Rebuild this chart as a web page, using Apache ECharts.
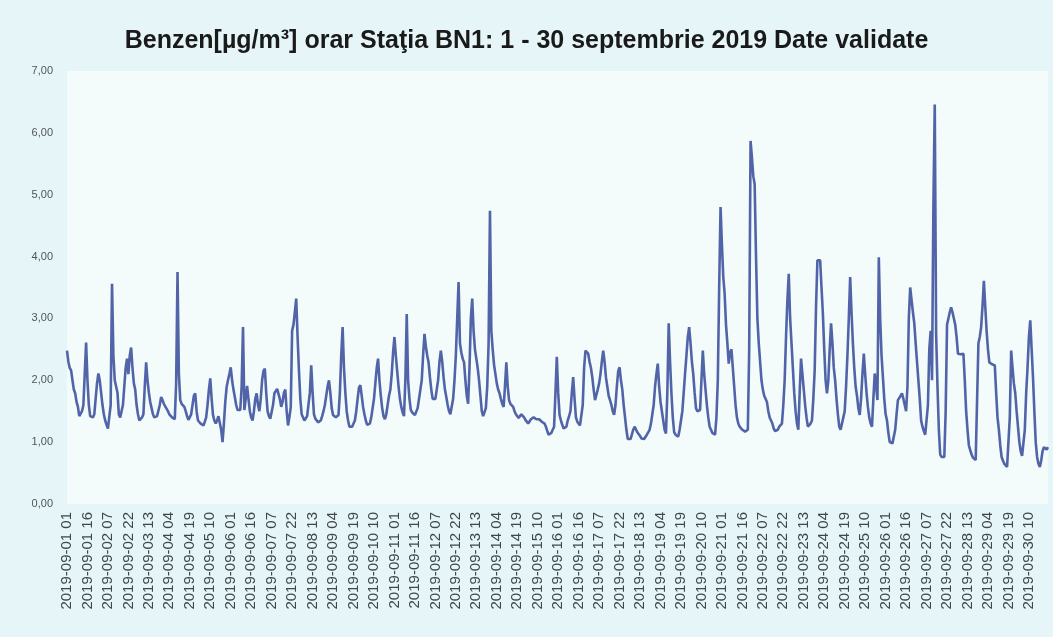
<!DOCTYPE html>
<html>
<head>
<meta charset="utf-8">
<title>Benzen orar BN1</title>
<script src="https://cdn.jsdelivr.net/npm/echarts@6/dist/echarts.min.js"></script>
<style>
  html, body { margin: 0; padding: 0; background: #e6f6f8; }
  #chart { width: 1053px; height: 637px; }
</style>
</head>
<body>
<div id="chart"></div>
<script>
// hourly values, one row per day (1 - 30 septembrie 2019)
const benzen = [
  2.48, 2.3, 2.2, 2.16, 2.0, 1.85, 1.79, 1.65, 1.57, 1.42, 1.39, 1.5, 1.6, 2.1, 2.61, 2.0, 1.6, 1.42, 1.39, 1.4, 1.45, 1.7, 1.95, 2.11,
  2.0, 1.8, 1.6, 1.45, 1.35, 1.28, 1.22, 1.19, 1.6, 3.56, 2.4, 2.0, 1.9, 1.8, 1.45, 1.4, 1.42, 1.6, 1.9, 2.2, 2.35, 2.1, 2.4, 2.53,
  2.2, 1.95, 1.85, 1.6, 1.45, 1.35, 1.32, 1.4, 1.45, 1.9, 2.29, 2.0, 1.8, 1.65, 1.55, 1.45, 1.4, 1.39, 1.42, 1.45, 1.6, 1.73, 1.68, 1.62,
  1.58, 1.57, 1.5, 1.45, 1.42, 1.4, 1.38, 1.37, 1.95, 3.75, 2.1, 1.68, 1.62, 1.6, 1.57, 1.5, 1.42, 1.36, 1.33, 1.45, 1.6, 1.75, 1.79, 1.5,
  1.35, 1.32, 1.3, 1.28, 1.27, 1.33, 1.4, 1.6, 1.85, 2.03, 1.7, 1.44, 1.35, 1.3, 1.35, 1.42, 1.44, 1.2, 1.0, 1.3, 1.65, 1.89, 2.0, 2.1,
  2.21, 2.0, 1.85, 1.73, 1.6, 1.52, 1.5, 1.52, 1.9, 2.86, 1.52, 1.7, 1.91, 1.7, 1.5, 1.4, 1.35, 1.5, 1.7, 1.79, 1.6, 1.5, 1.7, 2.0,
  2.15, 2.19, 1.8, 1.5, 1.42, 1.38, 1.37, 1.6, 1.79, 1.82, 1.86, 1.88, 1.7, 1.57, 1.65, 1.8, 1.85, 1.5, 1.27, 1.4, 1.57, 2.8, 2.9, 3.1,
  3.32, 2.7, 2.16, 1.7, 1.45, 1.4, 1.35, 1.38, 1.42, 1.44, 1.8, 2.24, 1.8, 1.45, 1.38, 1.35, 1.32, 1.3, 1.35, 1.42, 1.5, 1.6, 1.75, 1.9,
  2.0, 1.8, 1.55, 1.44, 1.42, 1.4, 1.42, 1.44, 1.8, 2.4, 2.86, 2.2, 1.8, 1.5, 1.35, 1.25, 1.22, 1.25, 1.3, 1.35, 1.5, 1.7, 1.88, 1.92,
  1.75, 1.57, 1.45, 1.35, 1.28, 1.25, 1.3, 1.4, 1.55, 1.7, 1.95, 2.2, 2.35, 2.0, 1.75, 1.55, 1.42, 1.37, 1.45, 1.6, 1.75, 1.85, 2.1, 2.45,
  2.7, 2.4, 2.15, 1.9, 1.7, 1.57, 1.48, 1.42, 2.0, 3.07, 2.0, 1.7, 1.52, 1.48, 1.45, 1.44, 1.44, 1.55, 1.7, 1.85, 2.0, 2.4, 2.75, 2.55,
  2.4, 2.29, 2.05, 1.85, 1.7, 1.68, 1.7, 1.73, 2.0, 2.3, 2.48, 2.3, 2.05, 1.85, 1.73, 1.6, 1.5, 1.45, 1.44, 1.7, 2.0, 2.4, 3.0, 3.59,
  2.6, 2.45, 2.35, 2.29, 2.0, 1.75, 1.62, 2.2, 3.0, 3.32, 2.8, 2.5, 2.35, 2.2, 2.0, 1.75, 1.5, 1.42, 1.45, 1.55, 1.9, 2.6, 4.74, 2.8,
  2.5, 2.25, 2.1, 1.95, 1.85, 1.79, 1.7, 1.62, 1.57, 1.9, 2.29, 1.9, 1.68, 1.62, 1.6, 1.57, 1.5, 1.45, 1.42, 1.39, 1.42, 1.45, 1.44, 1.4,
  1.36, 1.33, 1.3, 1.33, 1.37, 1.4, 1.4, 1.38, 1.37, 1.37, 1.37, 1.35, 1.33, 1.32, 1.3, 1.25, 1.18, 1.12, 1.09, 1.15, 1.2, 1.25, 1.8, 2.38,
  1.8, 1.44, 1.35, 1.28, 1.22, 1.2, 1.25, 1.35, 1.42, 1.5, 1.8, 2.05, 1.7, 1.4, 1.33, 1.3, 1.27, 1.25, 1.6, 2.2, 2.48, 2.45, 2.43, 2.3,
  2.2, 2.05, 1.85, 1.68, 1.7, 1.85, 1.95, 2.1, 2.3, 2.48, 2.3, 2.05, 1.9, 1.75, 1.68, 1.6, 1.5, 1.44, 1.6, 1.9, 2.15, 2.21, 2.0, 1.85,
  1.6, 1.4, 1.2, 1.05, 1.03, 1.05, 1.12, 1.2, 1.25, 1.22, 1.16, 1.13, 1.1, 1.06, 1.03, 1.05, 1.08, 1.12, 1.14, 1.2, 1.3, 1.45, 1.6, 1.9,
  2.1, 2.27, 1.9, 1.65, 1.5, 1.35, 1.2, 1.14, 1.8, 2.92, 2.3, 1.79, 1.4, 1.16, 1.12, 1.1, 1.09, 1.2, 1.35, 1.5, 1.8, 2.11, 2.4, 2.7,
  2.86, 2.6, 2.3, 2.1, 1.8, 1.55, 1.5, 1.5, 1.52, 2.0, 2.48, 2.1, 1.85, 1.6, 1.4, 1.25, 1.2, 1.15, 1.12, 1.12, 1.4, 2.0, 3.5, 4.8,
  4.2, 3.67, 3.4, 2.9, 2.6, 2.27, 2.45, 2.5, 2.2, 1.9, 1.6, 1.4, 1.3, 1.25, 1.22, 1.2, 1.18, 1.17, 1.18, 1.2, 2.5, 5.87, 5.6, 5.3,
  5.17, 4.0, 3.0, 2.6, 2.3, 2.0, 1.85, 1.75, 1.7, 1.65, 1.5, 1.4, 1.35, 1.3, 1.22, 1.18, 1.17, 1.2, 1.25, 1.28, 1.3, 1.6, 2.0, 2.7,
  3.3, 3.72, 3.0, 2.6, 2.2, 1.8, 1.5, 1.3, 1.2, 1.8, 2.35, 2.1, 1.85, 1.6, 1.4, 1.25, 1.27, 1.3, 1.35, 1.7, 2.16, 3.2, 3.94, 3.94,
  3.94, 3.5, 3.08, 2.5, 2.0, 1.79, 2.0, 2.5, 2.92, 2.6, 2.2, 2.0, 1.7, 1.45, 1.25, 1.2, 1.3, 1.4, 1.5, 1.9, 2.4, 3.0, 3.67, 3.1,
  2.6, 2.2, 1.9, 1.75, 1.55, 1.44, 1.7, 2.1, 2.43, 2.1, 1.8, 1.57, 1.4, 1.3, 1.25, 1.7, 2.11, 1.9, 1.68, 3.99, 3.0, 2.4, 2.05, 1.7,
  1.45, 1.35, 1.15, 1.0, 0.98, 0.98, 0.98, 1.2, 1.45, 1.68, 1.7, 1.75, 1.79, 1.7, 1.6, 1.5, 1.9, 3.0, 3.5, 3.3, 3.1, 2.92, 2.6, 2.3,
  2.0, 1.7, 1.35, 1.25, 1.18, 1.12, 1.09, 1.6, 2.5, 2.8, 2.0, 4.8, 6.46, 2.76, 1.9, 1.2, 0.8, 0.76, 0.75, 0.76, 1.5, 2.9, 3.0, 3.1,
  3.18, 3.1, 3.0, 2.9, 2.7, 2.43, 2.4, 2.42, 2.43, 2.43, 2.0, 1.5, 1.2, 0.95, 0.87, 0.8, 0.75, 0.72, 0.71, 0.71, 2.6, 2.7, 2.86, 3.2,
  3.61, 3.2, 2.8, 2.5, 2.29, 2.28, 2.26, 2.25, 2.24, 1.8, 1.4, 1.2, 0.95, 0.76, 0.7, 0.65, 0.62, 0.6, 0.6, 1.4, 2.48, 2.2, 1.95, 1.79,
  1.5, 1.25, 1.0, 0.85, 0.78, 0.76, 1.2, 1.79, 2.2, 2.7, 2.97, 2.5, 2.05, 1.5, 1.0, 0.76, 0.65, 0.6, 0.7, 0.85, 0.92, 0.9, 0.88, 0.92
]

const startDay = 1
const firstHour = 1
const yTicks = [0, 1, 2, 3, 4, 5, 6, 7]

// category labels "2019-09-DD HH", one per hour
const hours = []
for (let k = 0; k < benzen.length; k++) {
  const h = firstHour + k
  const day = startDay + Math.floor(h / 24)
  const hh = h % 24
  const mm = day > 30 ? '10' : '09'
  const dd = day > 30 ? day - 30 : day
  hours.push('2019-' + mm + '-' + String(dd).padStart(2, '0') + ' ' + String(hh).padStart(2, '0'))
}

const chart = echarts.init(document.getElementById('chart'))

const option = {
  backgroundColor: '#e6f6f8',
  animation: false,
  title: {
    text: 'Benzen[µg/m³] orar Staţia BN1: 1 - 30 septembrie 2019 Date validate',
    left: 'center',
    top: 24,
    textStyle: {
      fontFamily: 'Liberation Sans, Arial, sans-serif',
      fontSize: 25,
      fontWeight: 'bold',
      color: '#1a1a1a'
    }
  },
  grid: {
    show: true,
    backgroundColor: '#f3fbfb',
    borderWidth: 0,
    left: 67,
    right: 5,
    top: 71,
    bottom: 133
  },
  xAxis: {
    type: 'category',
    boundaryGap: false,
    data: hours,
    axisTick: { show: false },
    axisLine: { show: false },
    axisLabel: {
      interval: 14,
      rotate: 90,
      margin: 8,
      fontFamily: 'Liberation Sans, Arial, sans-serif',
      fontSize: 15,
      color: '#3f464e'
    }
  },
  yAxis: {
    type: 'value',
    min: yTicks[0],
    max: yTicks[yTicks.length - 1],
    interval: 1,
    axisLine: { show: false },
    axisTick: { show: false },
    splitLine: { show: false },
    axisLabel: {
      margin: 14,
      fontFamily: 'Liberation Sans, Arial, sans-serif',
      fontSize: 11,
      color: '#4f555b',
      formatter: (v) => v.toFixed(2).replace('.', ',')
    }
  },
  series: [
    {
      name: 'Benzen',
      type: 'line',
      data: benzen,
      showSymbol: false,
      symbol: 'none',
      lineStyle: { color: '#5264a8', width: 2.6 }
    }
  ]
}

chart.setOption(option)
</script>
</body>
</html>
